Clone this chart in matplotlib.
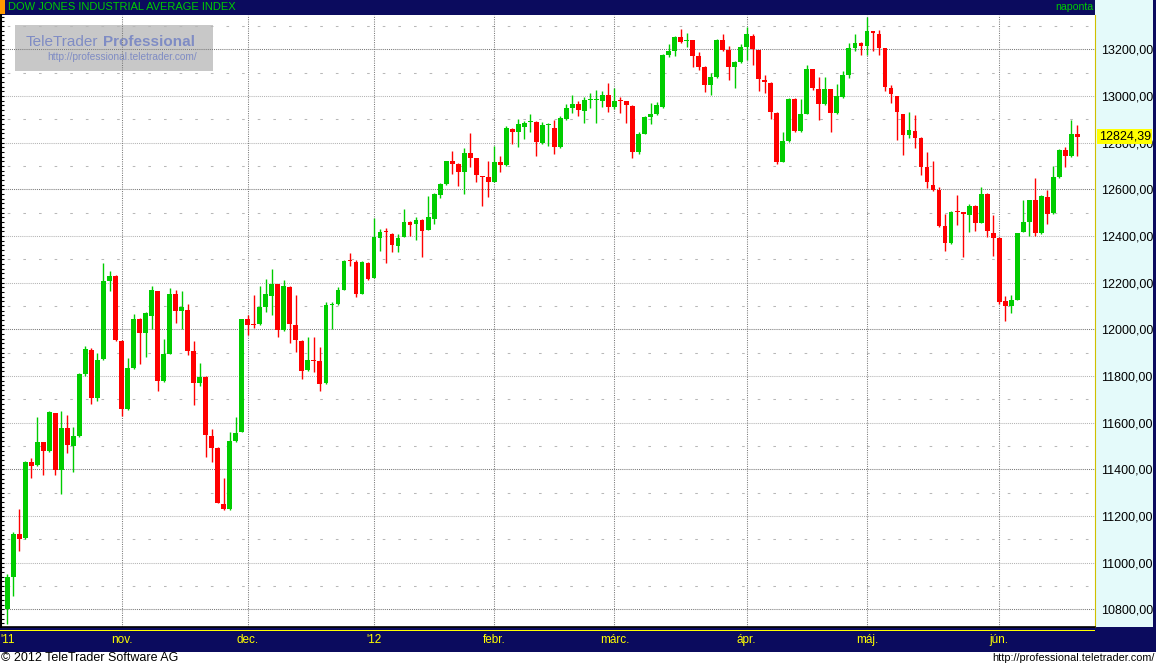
import numpy as np
import matplotlib
matplotlib.use('Agg')
import matplotlib.pyplot as plt
import matplotlib.transforms as mtransforms
from matplotlib.patches import Rectangle
from matplotlib.ticker import MultipleLocator

plt.rcParams['font.family'] = ['Liberation Sans', 'DejaVu Sans']

# daily OHLC, Dow Jones Industrial Average, 5 Oct 2011 - 20 Jun 2012
opens = [10801, 10939, 11123, 11106, 11431, 11417, 11517, 11479, 11642, 11399,
         11577, 11500, 11543, 11809, 11913, 11706, 11873, 12207, 12229, 11950,
         11658, 11834, 12044, 11984, 12057, 12164, 11779, 11894, 12151, 12079,
         12083, 11907, 11770, 11796, 11543, 11491, 11251, 11230, 11521, 11560,
         12044, 12021, 12023, 12096, 12143, 12194, 11997, 12181, 12019, 11950,
         11826, 11869, 11864, 11770, 12104, 12109, 12169, 12294, 12289, 12151,
         12284, 12220, 12391, 12419, 12409, 12357, 12396, 12460, 12451, 12469,
         12426, 12473, 12576, 12623, 12721, 12709, 12674, 12756, 12734, 12659,
         12653, 12631, 12717, 12704, 12859, 12846, 12867, 12887, 12890, 12800,
         12875, 12864, 12783, 12903, 12950, 12967, 12937, 12981, 12981, 12980,
         13006, 12954, 12980, 12980, 12959, 12761, 12837, 12908, 12922, 12953,
         13176, 13193, 13253, 13235, 13240, 13171, 13124, 13047, 13081, 13240,
         13197, 13124, 13146, 13210, 13257, 13197, 13069, 13056, 12927, 12717,
         12807, 12987, 12850, 12923, 13116, 13030, 12966, 13030, 12927, 12996,
         13090, 13206, 13227, 13214, 13279, 13266, 13206, 13034, 13000, 12923,
         12833, 12850, 12820, 12696, 12619, 12597, 12443, 12370, 12504, 12503,
         12490, 12529, 12456, 12580, 12413, 12391, 12121, 12100, 12126, 12417,
         12460, 12554, 12413, 12567, 12499, 12653, 12769, 12743, 12837]
highs = [10951, 11130, 11230, 11437, 11449, 11624, 11517, 11650, 11642, 11650,
         11633, 11582, 11813, 11930, 11920, 11900, 12286, 12250, 12233, 11954,
         11877, 12066, 12049, 12074, 12186, 12164, 11959, 12177, 12169, 12164,
         12109, 11950, 11856, 11800, 11573, 11495, 11363, 11560, 11624, 12044,
         12061, 12147, 12186, 12216, 12259, 12194, 12213, 12186, 12147, 11954,
         11967, 11967, 11926, 12117, 12117, 12181, 12297, 12327, 12297, 12293,
         12289, 12477, 12430, 12434, 12413, 12409, 12516, 12464, 12481, 12473,
         12571, 12584, 12627, 12721, 12764, 12713, 12777, 12841, 12734, 12659,
         12721, 12786, 12743, 12871, 12863, 12901, 12893, 12924, 12894, 12890,
         12886, 12899, 12916, 12967, 13006, 12980, 12997, 13014, 13027, 13023,
         13057, 13036, 12997, 12980, 12963, 12845, 12916, 12969, 12974, 13180,
         13223, 13257, 13287, 13270, 13240, 13189, 13129, 13099, 13244, 13266,
         13214, 13150, 13223, 13296, 13266, 13197, 13090, 13060, 12931, 12846,
         12991, 12991, 12987, 13133, 13116, 13081, 13081, 13030, 13051, 13107,
         13227, 13266, 13231, 13339, 13279, 13283, 13206, 13047, 13000, 12923,
         12931, 12919, 12824, 12760, 12721, 12610, 12494, 12507, 12576, 12503,
         12537, 12533, 12610, 12584, 12490, 12396, 12143, 12147, 12413, 12554,
         12554, 12649, 12576, 12597, 12700, 12773, 12781, 12897, 12876]
lows = [10737, 10857, 11050, 11100, 11363, 11414, 11376, 11474, 11376, 11294,
        11470, 11389, 11539, 11800, 11680, 11693, 11869, 12164, 11950, 11628,
        11655, 11830, 11851, 11881, 12001, 11736, 11774, 11894, 12027, 12001,
        11890, 11676, 11757, 11453, 11431, 11256, 11226, 11226, 11517, 11560,
        11976, 12006, 12019, 12074, 12061, 11967, 11993, 11941, 11903, 11786,
        11821, 11817, 11736, 11766, 12000, 12104, 12169, 12271, 12139, 12151,
        12211, 12220, 12336, 12284, 12331, 12331, 12396, 12400, 12383, 12310,
        12426, 12451, 12563, 12619, 12666, 12614, 12580, 12696, 12631, 12529,
        12567, 12631, 12674, 12700, 12794, 12781, 12816, 12847, 12744, 12796,
        12787, 12753, 12779, 12899, 12929, 12916, 12886, 12950, 12886, 12954,
        12933, 12946, 12929, 12886, 12736, 12750, 12837, 12880, 12920, 12949,
        13167, 13171, 13227, 13210, 13124, 13111, 13017, 13004, 13077, 13193,
        13069, 13034, 13141, 13154, 13133, 13021, 13013, 12901, 12709, 12717,
        12803, 12846, 12846, 12923, 13026, 12897, 12961, 12846, 12923, 12991,
        13077, 13193, 13176, 13176, 13193, 13176, 13021, 12970, 12811, 12747,
        12820, 12777, 12661, 12606, 12593, 12439, 12336, 12366, 12447, 12310,
        12417, 12421, 12456, 12396, 12314, 12109, 12036, 12070, 12126, 12417,
        12400, 12400, 12409, 12451, 12494, 12649, 12696, 12739, 12743]
closes = [10939, 11123, 11101, 11431, 11414, 11517, 11479, 11646, 11399, 11577,
          11504, 11543, 11809, 11914, 11706, 11869, 12207, 12229, 11954, 11658,
          11834, 12044, 11984, 12070, 12169, 11779, 11894, 12151, 12079, 12096,
          11907, 11770, 11796, 11547, 11491, 11256, 11230, 11521, 11556, 12044,
          12019, 12019, 12096, 12151, 12194, 11997, 12186, 12023, 11954, 11821,
          11869, 11864, 11766, 12104, 12109, 12169, 12293, 12291, 12151, 12289,
          12216, 12396, 12417, 12416, 12361, 12391, 12460, 12447, 12469, 12421,
          12481, 12580, 12623, 12721, 12709, 12674, 12756, 12734, 12661, 12654,
          12631, 12717, 12704, 12863, 12846, 12880, 12884, 12889, 12804, 12877,
          12880, 12783, 12907, 12950, 12967, 12941, 12984, 12983, 12983, 13006,
          12954, 12980, 12977, 12963, 12761, 12837, 12908, 12922, 12960, 13176,
          13193, 13253, 13231, 13239, 13171, 13124, 13047, 13081, 13240, 13197,
          13124, 13146, 13210, 13266, 13201, 13073, 13060, 12931, 12717, 12807,
          12987, 12850, 12923, 13116, 13034, 12966, 13030, 12927, 13000, 13090,
          13206, 13227, 13214, 13279, 13270, 13206, 13039, 13009, 12931, 12833,
          12854, 12820, 12696, 12631, 12597, 12443, 12370, 12503, 12501, 12494,
          12529, 12456, 12580, 12421, 12391, 12117, 12100, 12126, 12413, 12460,
          12554, 12413, 12571, 12494, 12653, 12769, 12743, 12837, 12824]

month_pos = [0, 19, 40, 61, 81, 101, 123, 143, 165]
month_labels = ["'11", 'nov.', 'dec.', "'12", 'febr.', 'márc.', 'ápr.', 'máj.', 'jún.']
price_ticks = list(range(10800, 13201, 200))
last_close = 12824.39

W, H = 1156, 664
NAVY = '#0b0b5e'
GREEN = '#00cc00'
RED = '#ff0000'

fig = plt.figure(figsize=(W / 100, H / 100), dpi=100, facecolor='white')


def box(x0, y0, x1, y1, color, z=-1):
    # rectangle in pixel coords, origin top left
    fig.add_artist(Rectangle((x0 / W, 1 - y1 / H), (x1 - x0) / W, (y1 - y0) / H,
                             transform=fig.transFigure, facecolor=color,
                             edgecolor='none', zorder=z))


# frame pieces
box(0, 0, 1095, 15, NAVY)
box(0, 0, 5, 14, '#ff9900', z=-0.5)
box(1095, 0, 1153, 628, '#e4fafa')
box(1153, 0, W, 652, NAVY)
box(0, 627, W, 652, NAVY)
box(0, 629.5, 1095, 631, '#ffff00', z=-0.5)

ax = fig.add_axes([1 / W, 1 - 627 / H, 1094 / W, 612 / H])
ax.set_facecolor('white')

x = np.arange(len(closes))
o = np.array(opens, dtype=float)
c = np.array(closes, dtype=float)
up = c >= o
colors = np.where(up, GREEN, RED)

ax.vlines(x, lows, highs, colors=colors, lw=1.0, zorder=3)
ax.bar(x, np.maximum(np.abs(c - o), 4.5), bottom=np.minimum(o, c), width=0.8,
       color=colors, linewidth=0, zorder=4)

# grid
for v in price_ticks:
    col = '#7a7a7a' if v % 600 == 0 else '#b4b4b4'
    ax.axhline(v, color=col, lw=0.75, ls=(0, (1, 1)), zorder=1)
for v in range(10900, 13400, 200):
    ax.axhline(v, color='#b8b8b8', lw=0.75, ls=(9, (2.5, 12.5)), zorder=1)
for p in month_pos[1:]:
    ax.axvline(p, color='#7a7a7a', lw=0.75, ls=(0, (1, 1.2)), zorder=1)

ax.set_xlim(-1.05, 180.94)
ax.set_ylim(10724, 13347)

ax.set_xticks(month_pos)
ax.set_xticklabels(month_labels)
ax.tick_params(axis='x', length=0, pad=5, labelcolor='#ffff00', labelsize=8.5)

ax.set_yticks(price_ticks)
ax.set_yticklabels([f'{v:.2f}'.replace('.', ',') for v in price_ticks])
ax.yaxis.set_minor_locator(MultipleLocator(20))
ax.tick_params(axis='y', which='both', left=True, right=False, labelleft=False,
               labelright=True, direction='in', length=2.5, width=0.8, color='black')
ax.tick_params(axis='y', which='major', pad=4.5, labelsize=9, labelcolor='black')

for side in ['top']:
    ax.spines[side].set_visible(False)
ax.spines['left'].set_color('black')
ax.spines['left'].set_linewidth(1.5)
ax.spines['bottom'].set_color('black')
ax.spines['bottom'].set_linewidth(1.2)
ax.spines['right'].set_color('#d0c000')
ax.spines['right'].set_linewidth(0.8)

# last price marker on the scale
trans = mtransforms.blended_transform_factory(ax.transAxes, ax.transData)
ax.text(1.0035, last_close, f'{last_close:.2f}'.replace('.', ','), transform=trans,
        ha='left', va='center', fontsize=9, color='black', clip_on=False, zorder=6,
        bbox=dict(boxstyle='square,pad=0.12', fc='#ffff00', ec='none'))

# watermark
ax.add_patch(Rectangle((15 / W, 1 - 71 / H), 198 / W, 46 / H, transform=fig.transFigure,
                       facecolor='#c8c8c8', edgecolor='none', zorder=0.5))
ax.text(26 / W, 1 - 46 / H, 'TeleTrader', transform=fig.transFigure, fontsize=11,
        color='#7f8cc4', va='baseline', zorder=0.6)
ax.text(103 / W, 1 - 46 / H, 'Professional', transform=fig.transFigure, fontsize=11,
        fontweight='bold', color='#7f8cc4', va='baseline', zorder=0.6)
ax.text(47 / W, 1 - 60 / H, 'http://professional.teletrader.com/', transform=fig.transFigure,
        fontsize=7.3, color='#7f8cc4', va='baseline', zorder=0.6)

# header and footer
fig.text(8 / W, 1 - 7.5 / H, 'DOW JONES INDUSTRIAL AVERAGE INDEX', color=GREEN,
         fontsize=8, va='center')
fig.text(1093 / W, 1 - 7.5 / H, 'naponta', color=GREEN, fontsize=7.6, va='center', ha='right')
fig.text(1 / W, 1 - 658 / H, '© 2012 TeleTrader Software AG', color='black',
         fontsize=9, va='center')
fig.text(1155 / W, 1 - 658 / H, 'http://professional.teletrader.com/', color='black',
         fontsize=7.8, va='center', ha='right')

fig.savefig('out.png', dpi=100)
